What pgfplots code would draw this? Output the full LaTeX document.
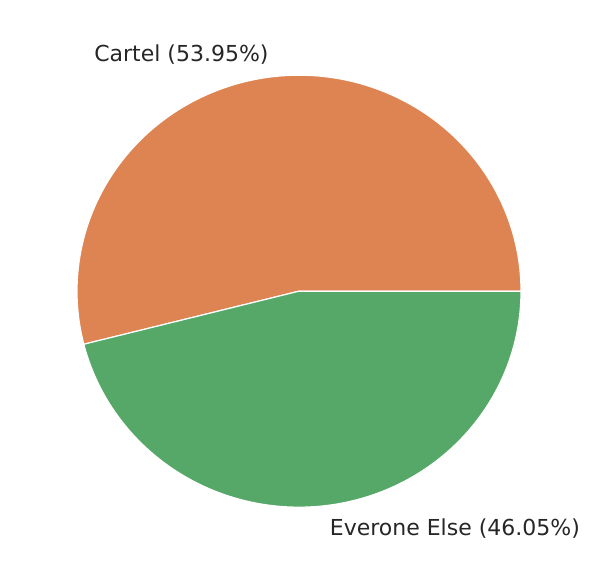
\documentclass[border=0pt]{standalone}
\usepackage{pgfplots}
\pgfplotsset{compat=1.18}
\usepackage{fontspec}
\setmainfont{DejaVu Sans}
\definecolor{sborange}{HTML}{DD8452}
\definecolor{sbgreen}{HTML}{55A868}
\definecolor{txt}{HTML}{262626}
% shares in percent
\def\cartel{53.95}
\def\rest{46.05}
\begin{document}
\begin{tikzpicture}
\begin{axis}[
  scale only axis,
  width=448.5pt, height=438pt,
  hide axis,
  xmin=-1.3468, xmax=1.3468,
  ymin=-1.3556, ymax=1.3481,
  clip=false,
]
\path (rel axis cs:0,0) rectangle (rel axis cs:1,1);
\addplot[fill=sborange, draw=white, line width=0.9pt, line join=round,
  domain=0:3.6*\cartel, samples=200, variable=\t]
  ({cos(\t)},{sin(\t)}) -- (axis cs:0,0) -- cycle;
\addplot[fill=sbgreen, draw=white, line width=0.9pt, line join=round,
  domain=3.6*\cartel:360, samples=200, variable=\t]
  ({cos(\t)},{sin(\t)}) -- (axis cs:0,0) -- cycle;
\node[anchor=east, text=txt, font=\fontsize{16.5pt}{19pt}\selectfont, inner sep=0pt]
  at (axis cs:-0.136,1.094) {Cartel (53.95\%)};
\node[anchor=west, text=txt, font=\fontsize{16.5pt}{19pt}\selectfont, inner sep=0pt]
  at (axis cs:0.138,-1.100) {Everone Else (46.05\%)};
\end{axis}
\end{tikzpicture}
\end{document}
